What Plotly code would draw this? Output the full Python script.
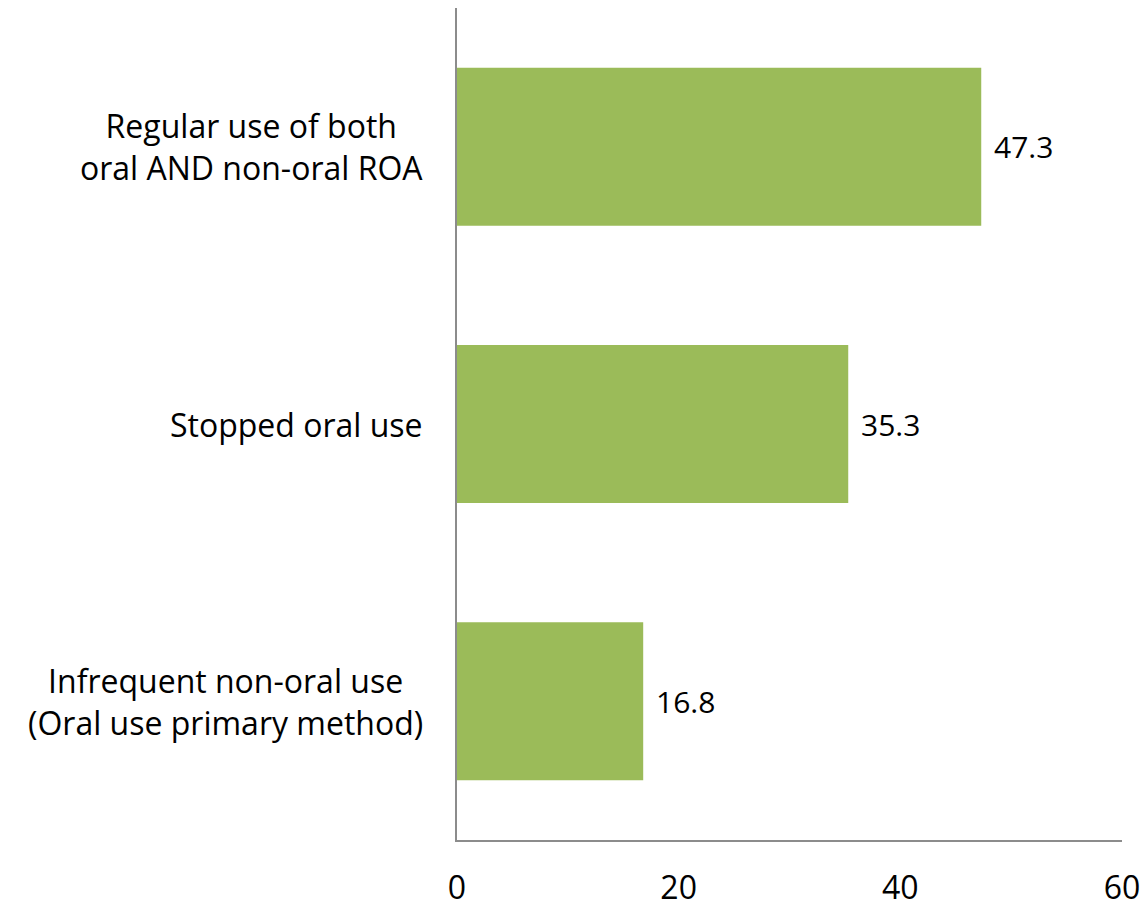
import plotly.graph_objects as go

# Route-of-administration categories (top to bottom) and their percentages
categories = [
    "Regular use of both<br>oral AND non-oral ROA",
    "Stopped oral use",
    "Infrequent non-oral use<br>(Oral use primary method)",
]
values = [47.3, 35.3, 16.8]
x_ticks = [0, 20, 40, 60]

FONT = "Open Sans, Carlito, Calibri, sans-serif"
BAR_COLOR = "#9BBB59"
AXIS_COLOR = "#8c8c8c"

fig = go.Figure(
    go.Bar(
        x=values,
        y=categories,
        orientation="h",
        marker=dict(color=BAR_COLOR, line=dict(width=0)),
        hoverinfo="x+y",
    )
)

# value labels just beyond each bar end
for cat, v in zip(categories, values):
    fig.add_annotation(
        x=v, y=cat, xref="x", yref="y",
        text=f"{v:.1f}", showarrow=False,
        xanchor="left", xshift=11,
        font=dict(family=FONT, size=30, color="#000000"),
    )

# category labels, centred line by line, to the left of the axis
for cat in categories:
    fig.add_annotation(
        x=0, y=cat, xref="paper", yref="y",
        text=cat, showarrow=False,
        xanchor="right", xshift=-32, align="center",
        font=dict(family=FONT, size=32, color="#000000"),
    )

fig.update_layout(
    width=1144,
    height=911,
    margin=dict(l=457, r=22, t=8, b=71, autoexpand=False),
    paper_bgcolor="white",
    plot_bgcolor="white",
    bargap=0.43,
    showlegend=False,
    font=dict(family=FONT, color="#000000"),
)

fig.update_xaxes(
    range=[0, 60],
    tickvals=x_ticks,
    ticktext=[str(t) for t in x_ticks],
    showgrid=False,
    zeroline=False,
    showline=True,
    linecolor=AXIS_COLOR,
    linewidth=1.5,
    ticks="",
    automargin=False,
    ticklabelstandoff=19,
    tickfont=dict(family=FONT, size=32, color="#000000"),
)

fig.update_yaxes(
    categoryorder="array",
    categoryarray=categories[::-1],
    showgrid=False,
    zeroline=False,
    showline=True,
    linecolor=AXIS_COLOR,
    linewidth=1.5,
    ticks="",
    showticklabels=False,
    automargin=False,
)

fig.write_html("out.html")
